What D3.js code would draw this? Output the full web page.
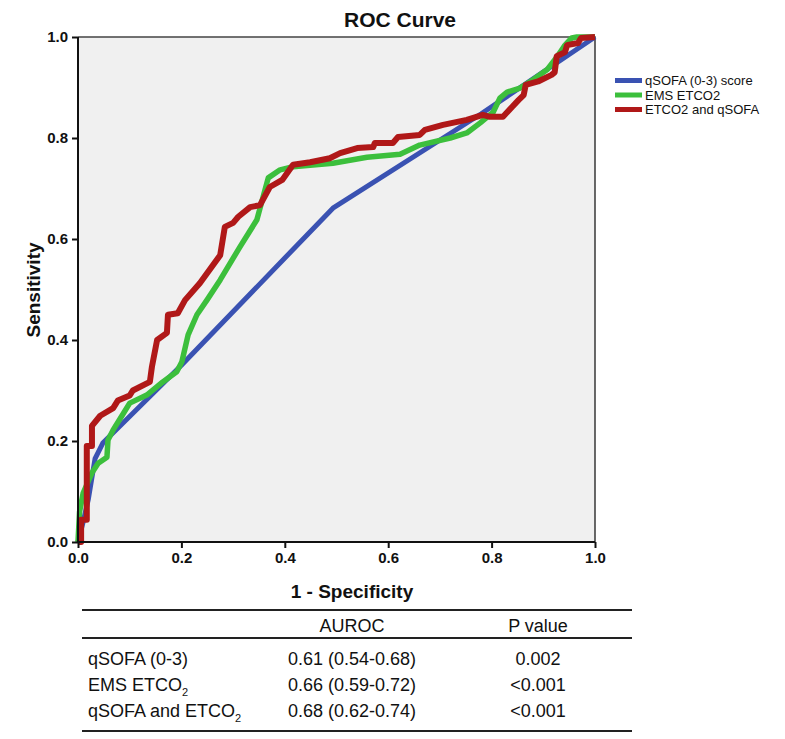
<!DOCTYPE html>
<html><head><meta charset="utf-8">
<script src="https://cdn.jsdelivr.net/npm/d3@7"></script>
<style>body{margin:0;background:#fff}svg{display:block}text{font-family:Arial,"Liberation Sans",sans-serif}</style>
</head><body>
<svg id="c" width="785" height="739"></svg>
<script>
// ---- data ----
const seriesNames = ["qSOFA (0-3) score", "EMS ETCO2", "ETCO2 and qSOFA"];
const seriesColors = ["#3a52b2", "#3cbf3c", "#b01818"];
const qsofaFpr = [0, 0.01, 0.02, 0.033, 0.048, 0.2, 0.493, 0.78, 1];
const qsofaTpr = [0, 0.04, 0.085, 0.165, 0.196, 0.35, 0.661, 0.848, 1];
const etco2Fpr = [0,0.003,0.01,0.027,0.039,0.056,0.058,0.068,0.085,0.10,0.133,0.164,0.191,0.201,0.213,0.23,0.25,0.275,0.313,0.346,0.368,0.391,0.416,0.493,0.559,0.623,0.661,0.72,0.752,0.778,0.803,0.816,0.83,0.855,0.874,0.907,0.926,0.942,0.955,0.965,1];
const etco2Tpr = [0,0.06,0.097,0.137,0.156,0.168,0.202,0.222,0.25,0.275,0.291,0.317,0.337,0.357,0.41,0.45,0.48,0.519,0.584,0.638,0.721,0.737,0.743,0.75,0.762,0.768,0.786,0.80,0.81,0.83,0.851,0.879,0.891,0.899,0.911,0.935,0.96,0.984,0.998,1.0,1];
const combFpr = [0,0.006,0.006,0.017,0.017,0.027,0.027,0.043,0.068,0.077,0.10,0.106,0.139,0.143,0.153,0.172,0.174,0.193,0.207,0.236,0.275,0.284,0.30,0.31,0.333,0.352,0.371,0.395,0.416,0.449,0.487,0.507,0.54,0.571,0.574,0.609,0.619,0.661,0.671,0.706,0.752,0.783,0.797,0.822,0.84,0.852,0.862,0.866,0.89,0.916,0.922,0.926,0.942,0.946,0.967,0.973,1];
const combTpr = [0,0,0.044,0.044,0.19,0.19,0.23,0.25,0.265,0.28,0.29,0.30,0.317,0.347,0.40,0.414,0.45,0.453,0.479,0.513,0.568,0.624,0.632,0.644,0.663,0.667,0.703,0.717,0.747,0.752,0.76,0.77,0.78,0.782,0.79,0.79,0.802,0.806,0.816,0.826,0.836,0.846,0.842,0.842,0.862,0.875,0.885,0.905,0.912,0.925,0.93,0.962,0.97,0.984,0.988,0.998,1];
const ticks = [0, 0.2, 0.4, 0.6, 0.8, 1.0];
const tableHeader = ["", "AUROC", "P value"];
const tableRows = [
  ["qSOFA (0-3)", "", "0.61 (0.54-0.68)", "0.002"],
  ["EMS ETCO", "2", "0.66 (0.59-0.72)", "<0.001"],
  ["qSOFA and ETCO", "2", "0.68 (0.62-0.74)", "<0.001"]
];

// ---- chart ----
const svg = d3.select("#c");
const x = d3.scaleLinear().domain([0, 1]).range([78, 595]);
const y = d3.scaleLinear().domain([0, 1]).range([542, 37]);

svg.append("rect").attr("x", x(0)).attr("y", y(1)).attr("width", x(1) - x(0)).attr("height", y(0) - y(1)).attr("fill", "#f0f0f0");
svg.append("path").attr("d", `M${x(0)},${y(1)}H${x(1)}V${y(0)}`).attr("fill", "none").attr("stroke", "#444").attr("stroke-width", 1.6);

const series = [
  qsofaFpr.map((v, i) => [v, qsofaTpr[i]]),
  etco2Fpr.map((v, i) => [v, etco2Tpr[i]]),
  combFpr.map((v, i) => [v, combTpr[i]])
];
const widths = [5, 5.5, 6];
const line = d3.line().x(d => x(d[0])).y(d => y(d[1]));
series.forEach((s, i) => {
  svg.append("path").datum(s).attr("d", line).attr("fill", "none")
    .attr("stroke", seriesColors[i]).attr("stroke-width", widths[i])
    .attr("stroke-linejoin", "round").attr("stroke-linecap", "butt");
});

const fmt = d3.format(".1f");
const gx = svg.append("g").attr("transform", `translate(0,${y(0)})`)
  .call(d3.axisBottom(x).tickValues(ticks).tickFormat(fmt).tickSize(6).tickPadding(4));
const gy = svg.append("g").attr("transform", `translate(${x(0)},0)`)
  .call(d3.axisLeft(y).tickValues(ticks).tickFormat(fmt).tickSize(6).tickPadding(4));
[gx, gy].forEach(g => {
  g.select(".domain").attr("stroke", "#111").attr("stroke-width", 2);
  g.selectAll(".tick line").attr("stroke", "#111").attr("stroke-width", 2);
  g.selectAll(".tick text").attr("fill", "#111").style("font-size", "15px").style("font-weight", "bold").style("font-family", "Arial, 'Liberation Sans', sans-serif");
});
gx.select(".domain").attr("d", `M${x(0)},0H${x(1)}`);
gy.select(".domain").attr("d", `M0,${y(0)}V${y(1)}`);

svg.append("text").attr("x", 400).attr("y", 27).attr("text-anchor", "middle")
  .style("font-size", "21px").style("font-weight", "bold").attr("fill", "#111").text("ROC Curve");
svg.append("text").attr("x", 352).attr("y", 598).attr("text-anchor", "middle")
  .style("font-size", "19px").style("font-weight", "bold").attr("fill", "#111").text("1 - Specificity");
svg.append("text").attr("transform", "translate(40,290) rotate(-90)").attr("text-anchor", "middle")
  .style("font-size", "19px").style("font-weight", "bold").attr("fill", "#111").text("Sensitivity");

// legend
const lg = svg.append("g");
seriesNames.forEach((n, i) => {
  const yy = 80.5 + i * 14.5;
  lg.append("line").attr("x1", 615).attr("x2", 642).attr("y1", yy).attr("y2", yy)
    .attr("stroke", seriesColors[i]).attr("stroke-width", 5);
  lg.append("text").attr("x", 645).attr("y", yy + 4.5).style("font-size", "13px").attr("fill", "#111").text(n);
});

// table
const tl = svg.append("g");
[610, 638, 731].forEach(yy => tl.append("line").attr("x1", 82).attr("x2", 632).attr("y1", yy).attr("y2", yy).attr("stroke", "#222").attr("stroke-width", 2));
const colX = [88, 352, 538];
tl.append("text").attr("x", colX[1]).attr("y", 632).attr("text-anchor", "middle").style("font-size", "18px").attr("fill", "#111").text(tableHeader[1]);
tl.append("text").attr("x", colX[2]).attr("y", 632).attr("text-anchor", "middle").style("font-size", "18px").attr("fill", "#111").text(tableHeader[2]);
tableRows.forEach((r, i) => {
  const yy = 665 + i * 26;
  const t = tl.append("text").attr("x", colX[0]).attr("y", yy).style("font-size", "18px").attr("fill", "#111");
  t.append("tspan").text(r[0]);
  if (r[1]) t.append("tspan").attr("dy", 5).style("font-size", "11px").text(r[1]);
  tl.append("text").attr("x", colX[1]).attr("y", yy).attr("text-anchor", "middle").style("font-size", "18px").attr("fill", "#111").text(r[2]);
  tl.append("text").attr("x", colX[2]).attr("y", yy).attr("text-anchor", "middle").style("font-size", "18px").attr("fill", "#111").text(r[3]);
});
</script>
</body></html>
